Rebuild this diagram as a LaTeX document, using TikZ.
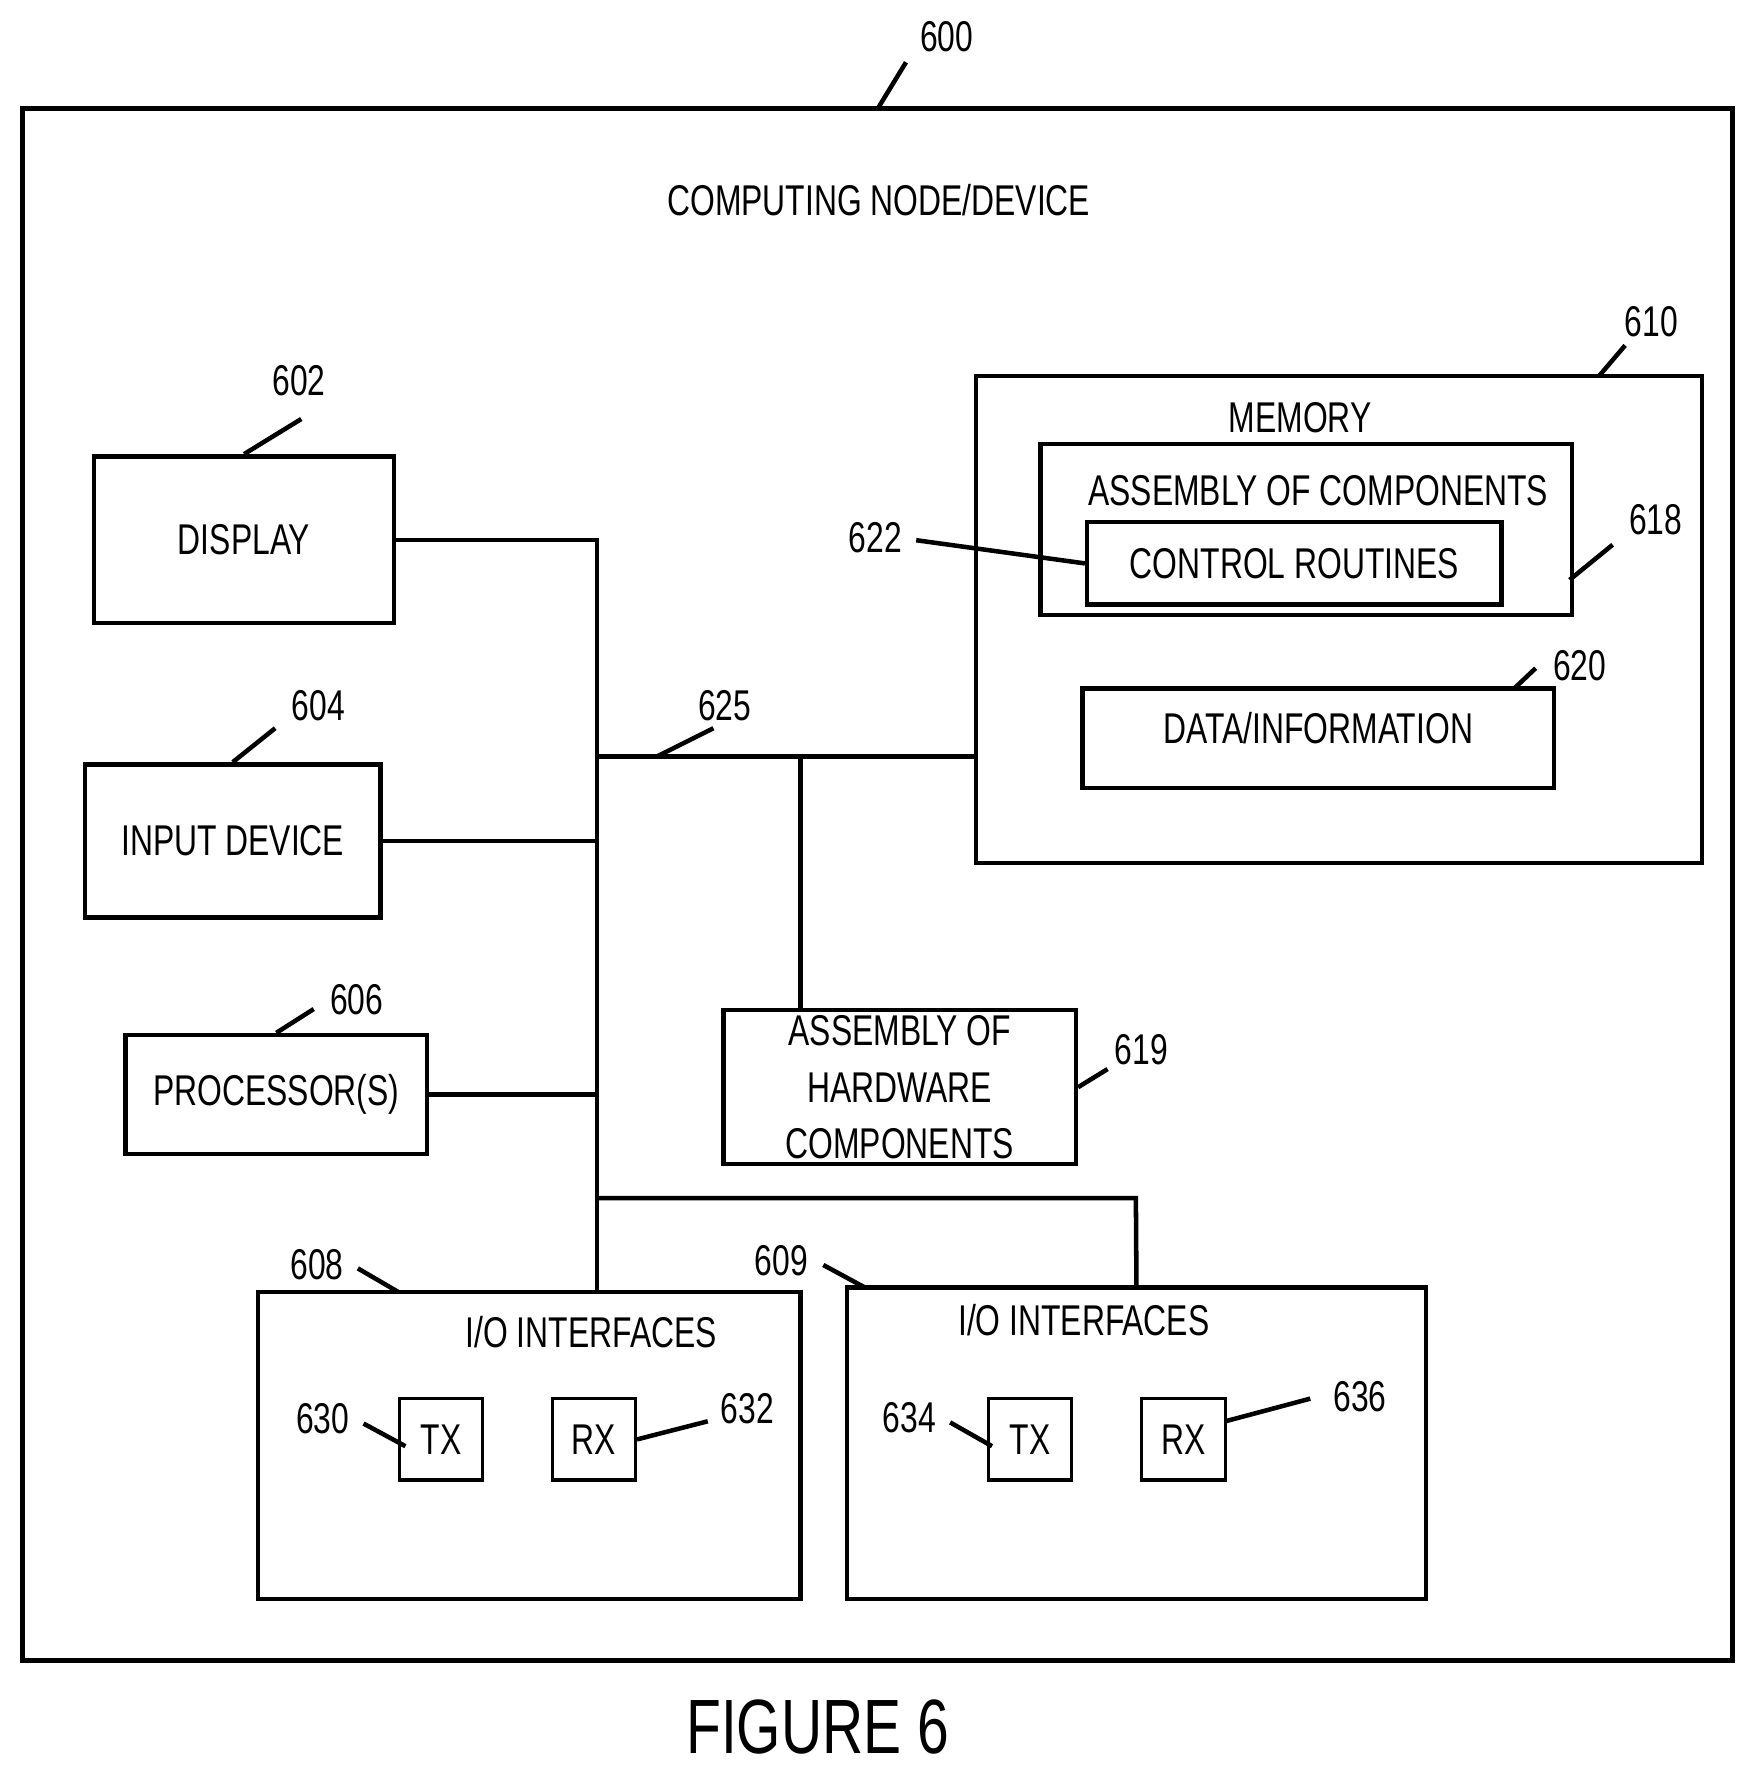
\documentclass[tikz,border=0pt]{standalone}
\usepackage{fontspec}
\setmainfont{Liberation Sans}[FakeStretch=0.74]
\begin{document}
\begin{tikzpicture}[x=0.5pt,y=-0.5pt,
  box/.style={draw,line width=2pt},
  ln/.style={line width=2pt},
  txt/.style={font=\fontsize{19}{22}\selectfont,inner sep=0pt,align=center}]
\useasboundingbox (0,0) rectangle (1552,1570);
\draw[box] (20,96) rectangle (1530,1466);
\node[txt] (l600) at (836,32) {600};
\coordinate (a600) at (775,96); \coordinate (b600) at (800,55);
\draw[ln] (a600)--(b600);
\node[txt] (title) at (776,177) {COMPUTING NODE/DEVICE};
% display
\node[box,minimum width=132.5pt,minimum height=73.5pt,txt] (disp) at (215.5,476.5) {DISPLAY};
\node[txt] (l602) at (264,336) {602};
\draw[ln] (disp.north) -- (266,370);
\node[box,minimum width=130.5pt,minimum height=67.5pt,txt] (inp) at (205.5,742.5) {INPUT DEVICE};
\node[txt] (l604) at (281,623) {604};
\draw[ln] (inp.north) -- (243,643);
\node[box,minimum width=133pt,minimum height=52.5pt,txt] (proc) at (244,966.5) {PROCESSOR(S)};
\node[txt] (l606) at (315,883) {606};
\draw[ln] (proc.north) -- (277,891);
% bus
\coordinate (bt) at (527,477); \coordinate (bb) at (527,1141);
\draw[ln] (disp.east |- bt) -- (bt) -- (bb);
\draw[ln] (inp.east) -- (527,742.5);
\draw[ln] (proc.east) -- (527,966.5);
\coordinate (h1) at (527,668);
\draw[ln] (h1) -- (862,668);
\node[txt] (l625) at (640,623) {625};
\draw[ln] (580,668) -- (630,643);
% hardware
\node[box,minimum width=155.5pt,minimum height=68pt,txt] (hw) at (794.5,960) {ASSEMBLY OF\\[3pt]HARDWARE\\[3pt]COMPONENTS};
\draw[ln] (707,668) -- (hw.north -| 707,0);
\node[txt] (l619) at (1008,927) {619};
\draw[ln] (hw.east) -- (978,944);
% io
\node[box,minimum width=239.5pt,minimum height=135.5pt] (io1) at (467.5,1276.5) {};
\node[box,minimum width=255.5pt,minimum height=137.5pt] (io2) at (1003.5,1274.5) {};
\draw[ln] (527,1058) -- (1003,1058) -- (io2.north);
\node[txt] at (522,1176) {I/O INTERFACES};
\node[txt] at (957,1166) {I/O INTERFACES};
\node[txt] (l608) at (280,1117) {608};
\draw[ln] (316,1120) -- (352,1141);
\node[txt] (l609) at (690,1113) {609};
\draw[ln] (727,1117) -- (764,1137);
\node[box,line width=1.5pt,minimum width=36.5pt,minimum height=36pt,txt] (tx1) at (389.5,1271) {TX};
\node[box,line width=1.5pt,minimum width=36.5pt,minimum height=36pt,txt] (rx1) at (524.5,1271) {RX};
\node[box,line width=1.5pt,minimum width=36.5pt,minimum height=36pt,txt] (tx2) at (909.5,1271) {TX};
\node[box,line width=1.5pt,minimum width=37pt,minimum height=36pt,txt] (rx2) at (1045,1271) {RX};
\node[txt] at (285,1253) {630};
\draw[ln] (321,1257) -- (358,1277);
\node[txt] at (660,1244) {632};
\draw[ln] (rx1.east) -- (625,1255);
\node[txt] at (803,1252) {634};
\draw[ln] (839,1256) -- (876,1277);
\node[txt] at (1201,1233) {636};
\draw[ln] (1082,1255) -- (1157,1235);
% memory
\draw[box] (862,332) rectangle (1503,762);
\node[txt] at (1458,284) {610};
\draw[ln] (1412,332) -- (1435,305);
\node[txt] at (1148,369) {MEMORY};
\draw[box] (919,392) rectangle (1388,543);
\node[txt] at (1164,433) {ASSEMBLY OF COMPONENTS};
\node[box,minimum width=183pt,minimum height=36.5pt,txt] (ctl) at (1143,497.5) {CONTROL ROUTINES};
\node[txt] at (773,475) {622};
\draw[ln] (809,477) -- (ctl.west);
\node[txt] at (1462,459) {618};
\draw[ln] (1386,512) -- (1424,481);
\node[box,minimum width=208pt,minimum height=44pt,txt] (data) at (1164,652) {};
\node[txt] at (1164,643) {DATA/INFORMATION};
\node[txt] at (1395,588) {620};
\draw[ln] (1337,608) -- (1356,590);
\node[txt,font=\fontsize{34}{40}\selectfont] at (722,1525) {FIGURE 6};
\end{tikzpicture}
\end{document}
